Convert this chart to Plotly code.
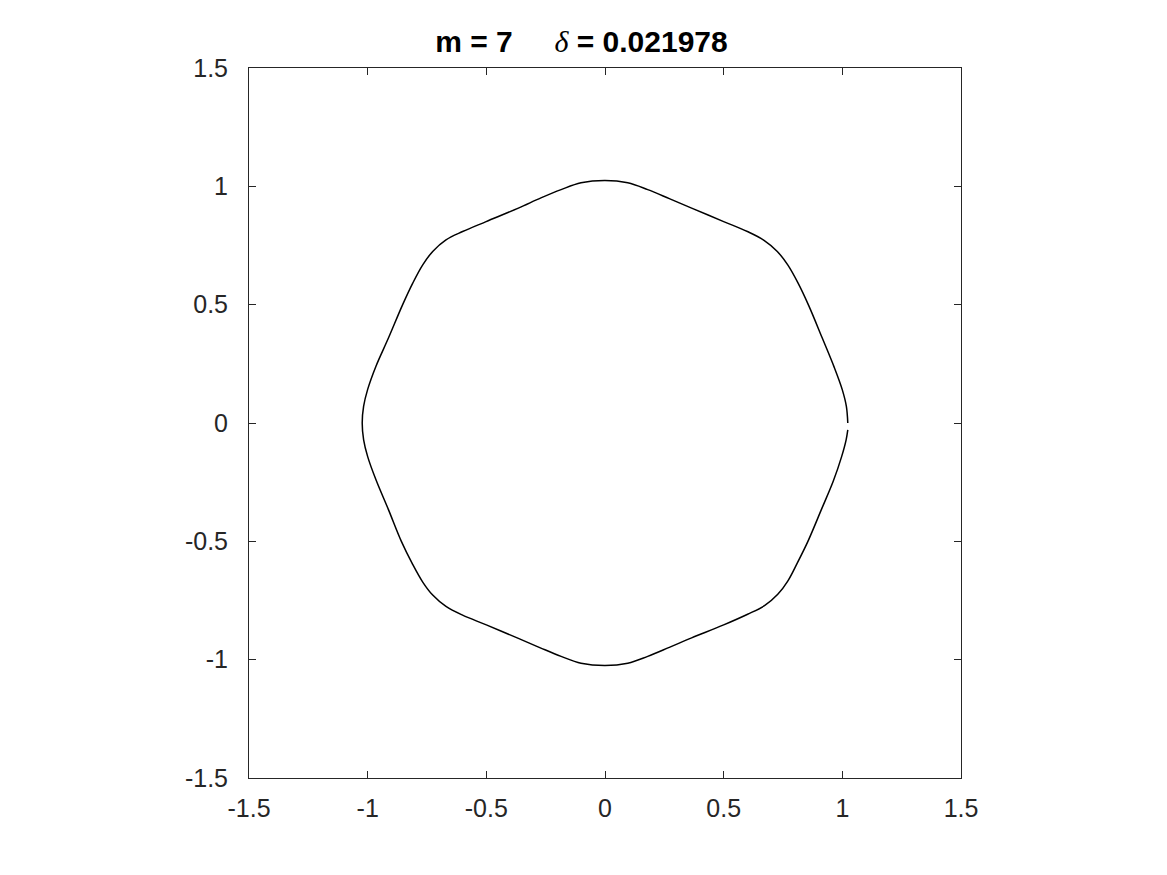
import plotly.graph_objects as go

# curve, counter-clockwise from the right-hand point
curve_x = [1.023, 1.017, 1.000, 0.966, 0.915, 0.858, 0.812, 0.770, 0.726, 0.670, 0.600, 0.500, 0.365, 0.271, 0.180, 0.096,
           0.000,
           -0.101, -0.185, -0.270, -0.365, -0.501, -0.600, -0.670, -0.726, -0.768, -0.810, -0.853, -0.912, -0.965, -1.000, -1.017,
           -1.023,
           -1.017, -1.000, -0.965, -0.912, -0.858, -0.812, -0.768, -0.726, -0.670, -0.600, -0.500, -0.365, -0.270, -0.185, -0.101,
           0.000,
           0.096, 0.180, 0.271, 0.365, 0.500, 0.601, 0.672, 0.728, 0.770, 0.810, 0.855, 0.912, 0.962, 0.997, 1.016, 1.023]
curve_y = [0.000, 0.070, 0.140, 0.235, 0.360, 0.497, 0.594, 0.668, 0.725, 0.772, 0.809, 0.851, 0.908, 0.948, 0.986, 1.015,
           1.025,
           1.015, 0.986, 0.951, 0.908, 0.851, 0.809, 0.774, 0.725, 0.668, 0.591, 0.499, 0.360, 0.240, 0.142, 0.071,
           0.000,
           -0.071, -0.142, -0.240, -0.367, -0.500, -0.594, -0.672, -0.727, -0.775, -0.812, -0.853, -0.910, -0.951, -0.986, -1.015,
           -1.025,
           -1.015, -0.986, -0.948, -0.908, -0.853, -0.808, -0.772, -0.724, -0.668, -0.592, -0.500, -0.365, -0.245, -0.142, -0.071, -0.029]

tick_vals = [-1.5, -1, -0.5, 0, 0.5, 1, 1.5]
tick_text = ["-1.5", "-1", "-0.5", "0", "0.5", "1", "1.5"]

m = 7
delta = "0.021978"

axis_style = dict(
    range=[-1.5, 1.5],
    tickvals=tick_vals,
    ticktext=tick_text,
    ticks="inside",
    ticklen=7,
    tickcolor="#262626",
    showline=True,
    linecolor="#262626",
    linewidth=1,
    mirror="ticks",
    showgrid=False,
    zeroline=False,
    tickfont=dict(family="Liberation Sans, Arial", size=25, color="#262626"),
)

fig = go.Figure()
fig.add_trace(go.Scatter(
    x=curve_x, y=curve_y,
    mode="lines",
    line=dict(color="black", width=1.5, shape="spline", smoothing=1.0),
    showlegend=False,
    hoverinfo="skip",
))

fig.update_layout(
    width=1167, height=875,
    margin=dict(l=241, r=214, t=60, b=105),
    plot_bgcolor="white",
    paper_bgcolor="white",
    title=dict(
        text=f"<b>m = {m}&nbsp;&nbsp;&nbsp;&nbsp;&nbsp;"
             f"<span style='font-family:Liberation Serif;font-weight:normal'><i>δ</i></span> = {delta}</b>",
        x=0.4914, xanchor="center",
        y=0.962, yanchor="middle",
        font=dict(family="Liberation Sans, Arial", size=30, color="black"),
    ),
    xaxis=dict(axis_style, ticklabelstandoff=8),
    yaxis=dict(axis_style, ticklabelstandoff=15),
)

fig.write_html("out.html")
